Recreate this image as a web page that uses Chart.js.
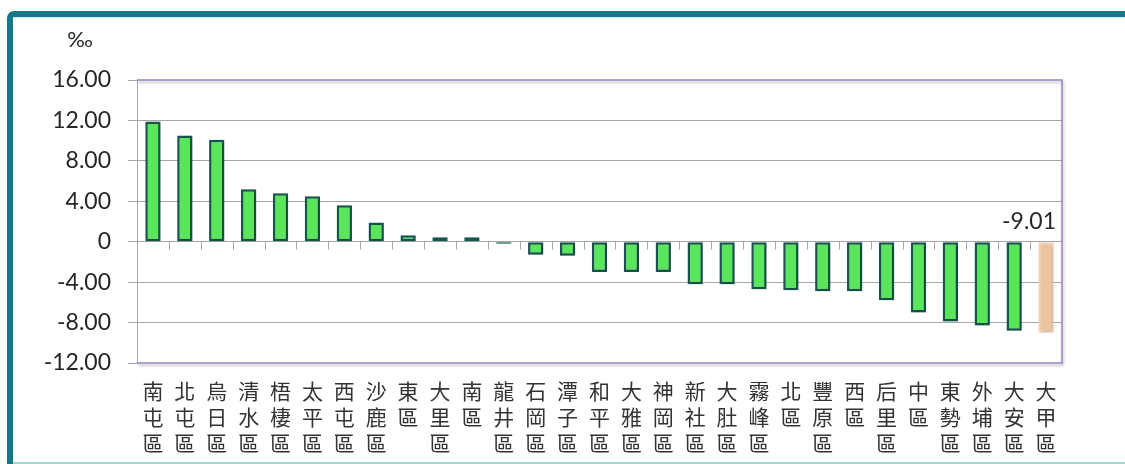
<!DOCTYPE html>
<html>
<head>
<meta charset="utf-8">
<script src="https://cdn.jsdelivr.net/npm/chart.js@4"></script>
<style>
  html, body { margin: 0; padding: 0; background: #fff; overflow: hidden; }
  #wrap { position: relative; width: 1125px; height: 464px; }
  #frame { position: absolute; left: 7px; top: 11px; width: 1200px; height: 600px;
           border-left: 6px solid #12788a; border-top: 6px solid #12788a;
           border-top-left-radius: 7px; box-sizing: border-box; }
  #frameLine { position: absolute; left: 13px; top: 17px; width: 1112px; height: 1px; background: #d3eaf0; }
  #bottomLine { position: absolute; left: 13px; top: 462px; width: 1112px; height: 2px; background: #a7d6d2; }
  canvas { position: absolute; left: 0; top: 0; }
</style>
</head>
<body>
<div id="wrap">
  <div id="frame"></div>
  <div id="frameLine"></div>
  <div id="bottomLine"></div>
  <canvas id="c" width="1125" height="464"></canvas>
</div>
<script>
const categories = ['南屯區','北屯區','烏日區','清水區','梧棲區','太平區','西屯區','沙鹿區','東區','大里區','南區','龍井區','石岡區','潭子區','和平區','大雅區','神岡區','新社區','大肚區','霧峰區','北區','豐原區','西區','后里區','中區','東勢區','外埔區','大安區','大甲區'];
const values = [11.9, 10.5, 10.1, 5.2, 4.8, 4.5, 3.6, 1.9, 0.65, 0.45, 0.45, -0.2, -1.3, -1.4, -3.0, -3.0, -3.0, -4.2, -4.2, -4.7, -4.8, -4.9, -4.9, -5.8, -7.0, -7.9, -8.3, -8.8, -9.01];
const highlighted = ['大甲區'];
const yMin = -12, yMax = 16, yStep = 4;
const unitLabel = '‰';

const isHi = categories.map(c => highlighted.includes(c));
const fillColors = isHi.map(h => h ? '#eec3a0' : '#5ae65a');
const borderColors = isHi.map(h => h ? '#f4d4ba' : '#17574f');

const GRID = '#a6a6a6';
const FRAME = '#9c84c4';

const decor = {
  id: 'decor',
  beforeDatasetsDraw(chart) {
    const ctx = chart.ctx;
    ctx.save();
    ctx.shadowColor = 'rgba(0,0,0,0.28)';
    ctx.shadowBlur = 3;
    ctx.shadowOffsetX = 1;
    ctx.shadowOffsetY = 1;
  },
  afterDatasetsDraw(chart) {
    const ctx = chart.ctx;
    ctx.restore();
    const a = chart.chartArea;
    const x = chart.scales.x, y = chart.scales.y;
    const zero = y.getPixelForValue(0);
    // category boundary ticks on zero line
    ctx.save();
    ctx.strokeStyle = GRID;
    ctx.lineWidth = 1;
    for (let i = 1; i < categories.length; i++) {
      const bx = Math.round((x.getPixelForValue(i - 1) + x.getPixelForValue(i)) / 2) + 0.5;
      ctx.beginPath();
      ctx.moveTo(bx, zero);
      ctx.lineTo(bx, zero + 8);
      ctx.stroke();
    }
    ctx.restore();
    // plot frame (top/right/bottom) with shadow
    ctx.save();
    ctx.strokeStyle = FRAME;
    ctx.lineWidth = 1.5;
    ctx.shadowColor = 'rgba(0,0,0,0.3)';
    ctx.shadowBlur = 3;
    ctx.shadowOffsetX = 1;
    ctx.shadowOffsetY = 2;
    ctx.beginPath();
    ctx.moveTo(a.left, a.top);
    ctx.lineTo(a.right, a.top);
    ctx.lineTo(a.right, a.bottom);
    ctx.lineTo(a.left, a.bottom);
    ctx.stroke();
    ctx.restore();
    // data label for highlighted bar
    const meta = chart.getDatasetMeta(0);
    ctx.save();
    ctx.font = '23px Lato';
    ctx.fillStyle = '#262626';
    ctx.textAlign = 'right';
    ctx.textBaseline = 'alphabetic';
    isHi.forEach((h, i) => {
      if (!h) return;
      const el = meta.data[i];
      ctx.fillText(values[i].toFixed(2), el.x + 10, zero - 13);
    });
    // unit label
    ctx.font = '22px Lato';
    ctx.textAlign = 'center';
    ctx.fillText(unitLabel, a.left - 57, a.top - 33);
    ctx.restore();
  }
};

new Chart(document.getElementById('c'), {
  type: 'bar',
  data: {
    labels: categories,
    datasets: [{
      data: values,
      backgroundColor: fillColors,
      borderColor: borderColors,
      borderWidth: 2.5,
      borderSkipped: false,
      categoryPercentage: 1,
      barPercentage: 0.48
    }]
  },
  options: {
    responsive: false,
    animation: false,
    devicePixelRatio: 1,
    layout: { padding: { top: 80, left: 0, right: 63, bottom: 0 } },
    plugins: { legend: { display: false }, tooltip: { enabled: false } },
    scales: {
      x: {
        position: 'bottom',
        grid: { display: false },
        border: { display: false },
        afterFit(s) { s.height = 101; },
        ticks: {
          autoSkip: false,
          maxRotation: 0,
          minRotation: 0,
          padding: 7,
          color: '#333333',
          font: { family: '"Noto Sans CJK TC"', size: 21, lineHeight: 1.24 },
          callback: (v, i) => categories[i].split('')
        }
      },
      y: {
        min: yMin,
        max: yMax,
        afterFit(s) { s.width = 137; },
        border: { color: GRID, width: 1 },
        grid: {
          color: (c) => (c.tick && (c.tick.value === yMax || c.tick.value === yMin)) ? 'rgba(0,0,0,0)' : GRID,
          tickColor: GRID,
          tickLength: 9,
          lineWidth: 1
        },
        ticks: {
          stepSize: yStep,
          padding: 17,
          color: '#262626',
          font: { family: 'Lato', size: 23 },
          callback: (v) => v === 0 ? '0' : v.toFixed(2)
        }
      }
    }
  },
  plugins: [decor]
});
</script>
</body>
</html>
